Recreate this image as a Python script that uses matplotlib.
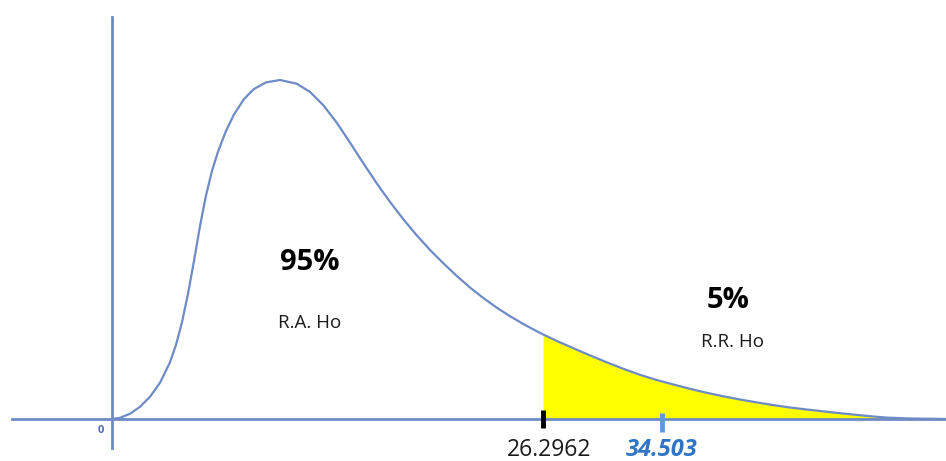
import matplotlib
matplotlib.use("Agg")
import matplotlib.pyplot as plt
import numpy as np

# curve (x in chi-square units, y = height above axis)
curve_x = [0, 0.488, 1.098, 1.708, 2.318, 2.928, 3.538, 3.905, 4.271, 4.637,
           5.003, 5.369, 5.735, 6.101, 6.467, 6.955, 7.443, 8.054, 8.664, 9.396,
           10.250, 11.269, 12.080, 12.892, 13.709, 14.521, 15.332, 16.150, 16.961,
           17.773, 18.590, 19.402, 20.213, 21.031, 21.842, 22.654, 23.471, 24.283,
           25.094, 25.912, 26.2962, 27.132, 28.145, 29.164, 30.183, 31.196, 32.214,
           33.232, 34.246, 35.265, 36.284, 37.296, 38.316, 39.334, 40.347, 41.366,
           42.385, 43.398, 44.417, 45.436, 46.448, 47.266, 48.487, 50.866]
curve_y = [0, 1.2, 5.2, 12.2, 22.2, 36.2, 56.7, 74.1, 96.9, 125.1,
           158.1, 192.9, 223.5, 248.1, 267.3, 288.1, 304.5, 320.0, 330.0, 336.6,
           339, 335.3, 327.1, 313.8, 296.4, 276.4, 255.8, 235.7, 217.1,
           199.8, 183.7, 169.1, 155.8, 143.1, 131.5, 121.0, 111.4, 102.8,
           95.0, 87.8, 84.6, 78.1, 70.8, 63.6, 56.7, 50.2, 44.2,
           39.0, 34.5, 30.2, 26.2, 22.7, 19.5, 16.6, 13.9, 11.5,
           9.5, 7.6, 5.8, 4.1, 2.5, 1.4, 0.6, 0]

critical = 26.2962
tail_end = 47.266
tick_pos = [26.2962, 33.56]
tick_labels = ["26.2962", "34.503"]

line_col = "#6E8BC6"

fig = plt.figure(figsize=(9.46, 4.61), dpi=100)
ax = fig.add_axes([0, 0, 1, 1])
ax.set_xlim(-6.833, 50.884)
ax.set_ylim(-42, 419)
ax.axis("off")

cx = np.array(curve_x)
cy = np.array(curve_y)
mask = (cx >= critical) & (cx <= tail_end)
ax.fill_between(cx[mask], 0, cy[mask], color="#FFFF00", lw=0, zorder=1)

# axes
ax.plot([-6.1, 50.88], [0, 0], color=line_col, lw=2, zorder=2)
ax.plot([0, 0], [-29, 402], color=line_col, lw=2, zorder=2)
ax.plot(cx, cy, color=line_col, lw=1.6, zorder=3, solid_joinstyle="round")

# tick marks
ax.plot([tick_pos[0]] * 2, [-9, 9], color="black", lw=3.5, zorder=4, solid_capstyle="butt")
ax.plot([tick_pos[1]] * 2, [-13, 6], color="#5B9BD5", lw=3.5, zorder=4, solid_capstyle="butt")

fam = ["Open Sans", "DejaVu Sans"]
ax.text(26.66, -31, tick_labels[0], ha="center", va="center", fontsize=16.5,
        family=fam, color="#1a1a1a")
ax.text(33.56, -31, tick_labels[1], ha="center", va="center", fontsize=17,
        family=fam, color="#2E75C6", fontweight="bold", style="italic")
ax.text(-0.67, -11, "0", ha="center", va="center", fontsize=8,
        family=fam, color="#4F6AA6", fontweight="bold")

ax.text(12.08, 157, "95%", ha="center", va="center", fontsize=21,
        family=fam, fontweight="bold", color="black")
ax.text(12.08, 96, "R.A. Ho", ha="center", va="center", fontsize=13.5,
        family=fam, color="#1a1a1a")
ax.text(37.58, 118, "5%", ha="center", va="center", fontsize=21,
        family=fam, fontweight="bold", color="black")
ax.text(37.86, 77, "R.R. Ho", ha="center", va="center", fontsize=13.5,
        family=fam, color="#1a1a1a")

fig.savefig("out.png", dpi=100)
